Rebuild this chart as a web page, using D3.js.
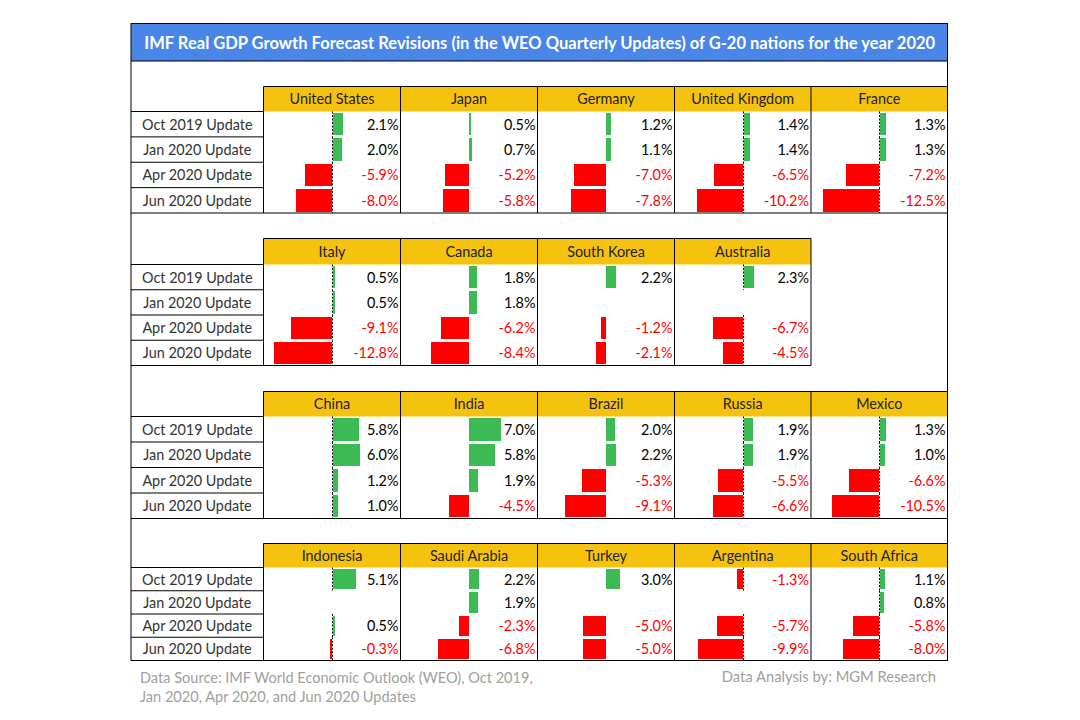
<!DOCTYPE html>
<html>
<head>
<meta charset="utf-8">
<style>
body { margin: 0; background: #fff; }
svg { display: block; }
text { font-family: Lato, "Open Sans", sans-serif; }
</style>
<script src="https://cdn.jsdelivr.net/npm/d3@7"></script>
</head>
<body>
<div id="chart"></div>
<script>
var titleText = "IMF Real GDP Growth Forecast Revisions (in the WEO Quarterly Updates) of G-20 nations for the year 2020";
var updates = ["Oct 2019 Update", "Jan 2020 Update", "Apr 2020 Update", "Jun 2020 Update"];

var countries1 = ["United States", "Japan", "Germany", "United Kingdom", "France"];
var values1 = [
	[2.1, 2.0, -5.9, -8.0],
	[0.5, 0.7, -5.2, -5.8],
	[1.2, 1.1, -7.0, -7.8],
	[1.4, 1.4, -6.5, -10.2],
	[1.3, 1.3, -7.2, -12.5]
];

var countries2 = ["Italy", "Canada", "South Korea", "Australia"];
var values2 = [
	[0.5, 0.5, -9.1, -12.8],
	[1.8, 1.8, -6.2, -8.4],
	[2.2, null, -1.2, -2.1],
	[2.3, null, -6.7, -4.5]
];

var countries3 = ["China", "India", "Brazil", "Russia", "Mexico"];
var values3 = [
	[5.8, 6.0, 1.2, 1.0],
	[7.0, 5.8, 1.9, -4.5],
	[2.0, 2.2, -5.3, -9.1],
	[1.9, 1.9, -5.5, -6.6],
	[1.3, 1.0, -6.6, -10.5]
];

var countries4 = ["Indonesia", "Saudi Arabia", "Turkey", "Argentina", "South Africa"];
var values4 = [
	[5.1, null, 0.5, -0.3],
	[2.2, 1.9, -2.3, -6.8],
	[3.0, null, -5.0, -5.0],
	[-1.3, null, -5.7, -9.9],
	[1.1, 0.8, -5.8, -8.0]
];

var blockCountries = [countries1, countries2, countries3, countries4];
var blockValues = [values1, values2, values3, values4];

// layout of the sheet
var width = 1080, height = 720;
var left = 131, right = 947.5, top_ = 23.5, titleBottom = 61;
var labelRight = 263.5;
var columnEdges = [263.5, 400.5, 537.5, 674.5, 811, 947.5];
var blockTops = [86.5, 238.5, 391.5, 543.5];
var headerBottoms = [111.5, 264.5, 416.5, 567.5];
var blockBottoms = [213, 365.5, 518.5, 660.5];
var dashedColumns = [0, 3, 4];

var svg = d3.select("#chart").append("svg")
	.attr("width", width)
	.attr("height", height);

svg.append("rect")
	.attr("x", left).attr("y", top_)
	.attr("width", right - left).attr("height", titleBottom - top_)
	.attr("fill", "#4a86e8");

svg.append("text")
	.attr("x", (left + right) / 2 + 0.5)
	.attr("y", 48.5)
	.attr("text-anchor", "middle")
	.attr("fill", "#fff")
	.attr("font-weight", 700)
	.attr("font-size", 16.55)
	.text(titleText);

blockCountries.forEach(function(countries, b) {

	var g = svg.append("g");

	var rowY = d3.scaleBand()
		.domain(updates)
		.range([headerBottoms[b], blockBottoms[b]]);

	// header cells
	g.selectAll("rect.head")
		.data(countries)
		.enter().append("rect")
		.attr("class", "head")
		.attr("x", function(d, i) { return columnEdges[i]; })
		.attr("y", blockTops[b])
		.attr("width", function(d, i) { return columnEdges[i + 1] - columnEdges[i]; })
		.attr("height", headerBottoms[b] - blockTops[b])
		.attr("fill", "#f5c30e");

	g.selectAll("text.head")
		.data(countries)
		.enter().append("text")
		.attr("class", "head")
		.attr("x", function(d, i) { return (columnEdges[i] + columnEdges[i + 1]) / 2; })
		.attr("y", (blockTops[b] + headerBottoms[b]) / 2 + 5)
		.attr("text-anchor", "middle")
		.attr("font-size", 14.4)
		.attr("fill", "#222")
		.text(function(d) { return d; });

	// update labels on the left
	g.selectAll("text.update")
		.data(updates)
		.enter().append("text")
		.attr("class", "update")
		.attr("x", (left + labelRight) / 2)
		.attr("y", function(d) { return rowY(d) + rowY.bandwidth() / 2 + 5.5; })
		.attr("text-anchor", "middle")
		.attr("font-size", 14.4)
		.attr("fill", "#333")
		.text(function(d) { return d; });

	g.selectAll("line.rowline")
		.data(updates)
		.enter().append("line")
		.attr("class", "rowline")
		.attr("x1", left).attr("x2", labelRight)
		.attr("y1", function(d) { return rowY(d); })
		.attr("y2", function(d) { return rowY(d); })
		.attr("stroke", "#000");

	countries.forEach(function(country, c) {

		var x0 = columnEdges[c], x1 = columnEdges[c + 1];
		var x = d3.scaleLinear().domain([-15.1, 15.1]).range([x0, x1]);
		var zero = Math.round(x(0));
		var dashed = dashedColumns.indexOf(c) >= 0;

		var cells = blockValues[b][c].map(function(v, r) {
			return { update: updates[r], value: v };
		}).filter(function(d) { return d.value !== null; });

		// whole pixels, so a tiny bar still shows next to the dashed line
		function barWidth(d) {
			return Math.max(2, Math.round(Math.abs(x(d.value) - x(0))));
		}

		g.selectAll("rect.bar" + c)
			.data(cells)
			.enter().append("rect")
			.attr("class", "bar" + c)
			.attr("x", function(d) {
				if (d.value < 0) return zero - barWidth(d);
				return dashed ? zero + 1 : zero;
			})
			.attr("y", function(d) { return rowY(d.update) + 1.5; })
			.attr("width", barWidth)
			.attr("height", rowY.bandwidth() - 3)
			.attr("shape-rendering", "crispEdges")
			.attr("fill", function(d) { return d.value < 0 ? "#ff0000" : "#3cbb55"; });

		if (dashed) {
			g.selectAll("line.zero" + c)
				.data(cells)
				.enter().append("line")
				.attr("class", "zero" + c)
				.attr("x1", zero + 0.5).attr("x2", zero + 0.5)
				.attr("y1", function(d) { return rowY(d.update); })
				.attr("y2", function(d) { return rowY(d.update) + rowY.bandwidth(); })
				.attr("stroke", "#000")
				.attr("stroke-dasharray", "2,1.5");
		}

		g.selectAll("text.val" + c)
			.data(cells)
			.enter().append("text")
			.attr("class", "val" + c)
			.attr("x", x1 - 2)
			.attr("y", function(d) { return rowY(d.update) + rowY.bandwidth() / 2 + 5.5; })
			.attr("text-anchor", "end")
			.attr("font-size", 14.4)
			.attr("fill", function(d) { return d.value < 0 ? "#ff0000" : "#000"; })
			.text(function(d) { return d.value.toFixed(1) + "%"; });
	});

	// cell borders of the block
	var edges = columnEdges.slice(0, countries.length + 1);

	g.selectAll("line.col")
		.data(edges)
		.enter().append("line")
		.attr("class", "col")
		.attr("x1", function(d) { return d; })
		.attr("x2", function(d) { return d; })
		.attr("y1", blockTops[b])
		.attr("y2", blockBottoms[b])
		.attr("stroke", "#000");

	g.append("line")
		.attr("x1", labelRight).attr("x2", edges[edges.length - 1])
		.attr("y1", blockTops[b]).attr("y2", blockTops[b])
		.attr("stroke", "#000");

	g.append("line")
		.attr("x1", left).attr("x2", b === 1 ? edges[edges.length - 1] : right)
		.attr("y1", blockBottoms[b]).attr("y2", blockBottoms[b])
		.attr("stroke", "#000");
});

// outer frame
svg.append("rect")
	.attr("x", left).attr("y", top_)
	.attr("width", right - left).attr("height", blockBottoms[3] - top_)
	.attr("fill", "none")
	.attr("stroke", "#000");

svg.append("line")
	.attr("x1", left).attr("x2", right)
	.attr("y1", titleBottom).attr("y2", titleBottom)
	.attr("stroke", "#000");

// footer notes
var footerLines = ["Data Source: IMF World Economic Outlook (WEO), Oct 2019,", "Jan 2020, Apr 2020, and Jun 2020 Updates"];

svg.selectAll("text.source")
	.data(footerLines)
	.enter().append("text")
	.attr("class", "source")
	.attr("x", 140)
	.attr("y", function(d, i) { return 682.5 + i * 19; })
	.attr("font-size", 14.55)
	.attr("fill", "#a0a0a0")
	.text(function(d) { return d; });

svg.append("text")
	.attr("x", 936)
	.attr("y", 682)
	.attr("text-anchor", "end")
	.attr("font-size", 14.75)
	.attr("fill", "#a0a0a0")
	.text("Data Analysis by: MGM Research");
</script>
</body>
</html>
